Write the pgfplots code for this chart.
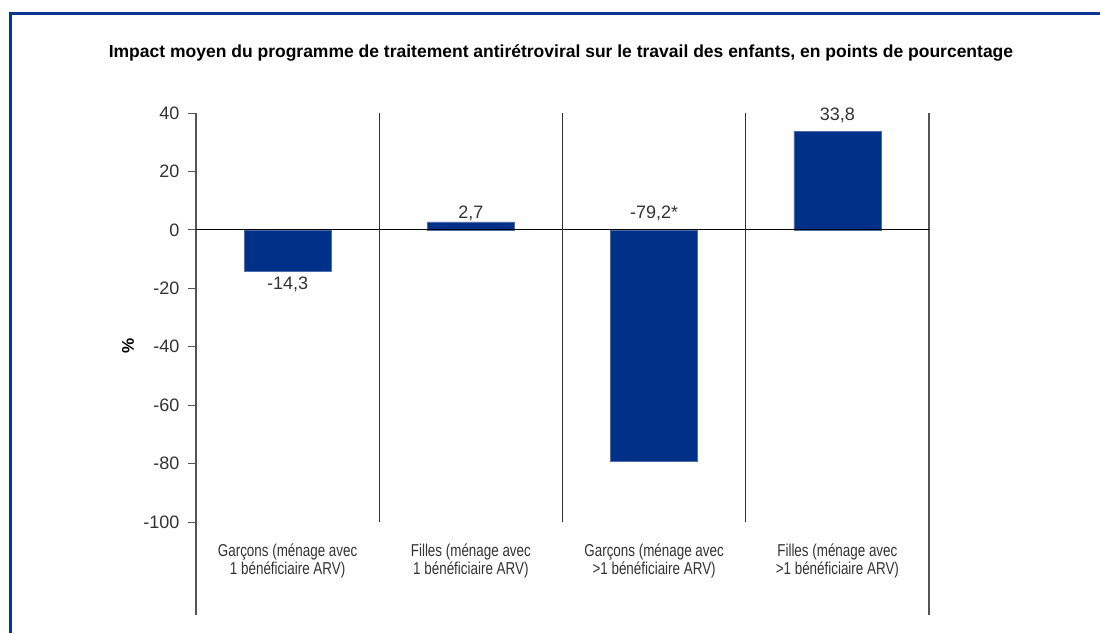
\documentclass[border=0pt]{standalone}
\usepackage{pgfplots}
\pgfplotsset{compat=1.18}
\usepackage{fontspec}
\setmainfont{Liberation Sans}
\newfontfamily\condfont[FakeStretch=0.78]{Liberation Sans}
\definecolor{barblue}{RGB}{0,48,135}
\definecolor{frameblue}{RGB}{12,52,145}
\definecolor{txtgray}{RGB}{51,51,51}
\definecolor{linegray}{RGB}{85,85,85}
\begin{document}
\begin{tikzpicture}
\path[use as bounding box] (0pt,0pt) rectangle (1100pt,633pt);
\draw[frameblue, line width=3pt] (10pt,0pt) -- (10pt,619.7pt) -- (1105pt,619.7pt);
\node[anchor=base, font=\bfseries\fontsize{17.5}{21}\selectfont, text=black] at (561pt,575pt)
 {Impact moyen du programme de traitement antirétroviral sur le travail des enfants, en points de pourcentage};
\node[rotate=90, font=\bfseries\fontsize{17}{20}\selectfont] at (128pt,287.5pt) {\%};
\begin{axis}[
 at={(196pt,18pt)}, anchor=south west,
 scale only axis, width=733pt, height=502pt,
 xmin=-0.5, xmax=3.5, ymin=-131.8, ymax=40,
 clip=false,
 separate axis lines,
 every outer x axis line/.append style={draw=none},
 every outer y axis line/.append style={draw=linegray, line width=1.3pt},
 xtick=\empty,
 ytick={-100,-80,-60,-40,-20,0,20,40},
 ytick pos=left, tick align=outside, major tick length=8pt,
 ytick style={draw=linegray, line width=1pt},
 /pgf/number format/assume math mode=true,
 yticklabel style={font=\fontsize{18}{21}\selectfont, text=txtgray, xshift=-5pt},
 ybar, bar width=87pt,
]
\addplot[fill=barblue, draw=barblue!70!white, line width=0.5pt] coordinates {(0,-14.3) (1,2.7) (2,-79.2) (3,33.8)};
\draw[black, line width=1pt] (axis cs:-0.5,0) -- (axis cs:3.5,0);
\draw[black!80, line width=1.2pt] (axis cs:0.5,-100) -- (axis cs:0.5,40);
\draw[black!80, line width=1.2pt] (axis cs:1.5,-100) -- (axis cs:1.5,40);
\draw[black!80, line width=1.2pt] (axis cs:2.5,-100) -- (axis cs:2.5,40);
\begin{scope}[every node/.style={font=\fontsize{18}{21}\selectfont, text=txtgray, anchor=base}]
\node at (axis cs:0,-20.25) {-14,3};
\node at (axis cs:1,4.05) {2,7};
\node at (axis cs:2,4.0) {-79,2*};
\node at (axis cs:3,37.3) {33,8};
\end{scope}
\begin{scope}[every node/.style={font=\condfont\fontsize{17.2}{20}\selectfont, text=txtgray, anchor=base}]
\node at (axis cs:0,-111.7) {Garçons (ménage avec};
\node at (axis cs:0,-117.8) {1 bénéficiaire ARV)};
\node at (axis cs:1,-111.7) {Filles (ménage avec};
\node at (axis cs:1,-117.8) {1 bénéficiaire ARV)};
\node at (axis cs:2,-111.7) {Garçons (ménage avec};
\node at (axis cs:2,-117.8) {>1 bénéficiaire ARV)};
\node at (axis cs:3,-111.7) {Filles (ménage avec};
\node at (axis cs:3,-117.8) {>1 bénéficiaire ARV)};
\end{scope}
\end{axis}
\end{tikzpicture}
\end{document}
